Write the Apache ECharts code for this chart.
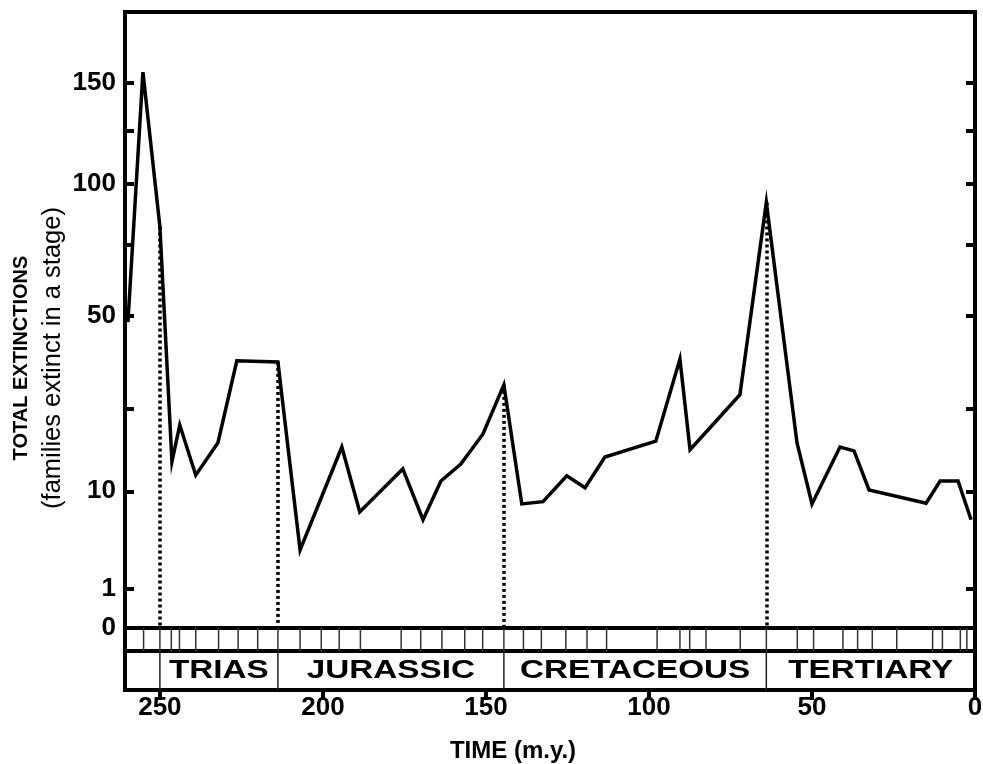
<!DOCTYPE html>
<html><head><meta charset="utf-8">
<script src="https://cdn.jsdelivr.net/npm/echarts@6/dist/echarts.min.js"></script>
<style>html,body{margin:0;padding:0;background:#fff}#c{width:983px;height:764px}</style>
</head><body><div id="c"></div>
<script>
// Time of each stage end (m.y. ago) and total family extinctions in that stage
const TIME = [259.8, 255.2, 250, 246.3, 243.9, 239, 232.2, 226.4, 213.8, 207, 194.2, 188.7, 175.5, 169.3, 163.8, 157.7, 150.9, 144.5, 139, 132.5, 125.2, 119.6, 113.5, 97.9, 90.5, 87.4, 81.9, 72.1, 64, 54.6, 50, 41.4, 37.1, 32.5, 15, 10.7, 5.2, 1.2];
const EXTINCT = [48, 156, 82, 14.6, 21.5, 12.4, 18, 36.8, 36.5, 3.45, 17.2, 7.3, 13.4, 6.4, 11.5, 14.2, 19.7, 30.6, 8.3, 8.6, 12.3, 10.5, 15.4, 18.3, 37.3, 16.7, 20.5, 28.2, 92, 18, 8.3, 17.2, 16.5, 10.2, 8.4, 11.5, 11.5, 6.4];
// Stage boundaries drawn in the thin strip under the plot
const STAGE_BOUNDS = [255, 250, 246.5, 244, 239, 232, 226, 220, 213.8, 207, 200.5, 195, 188.5, 176, 170, 163.5, 156.5, 151, 144.5, 138.5, 133, 125.5, 119, 113, 97.5, 90.5, 87.5, 82.5, 72, 64, 54.5, 49.5, 40.5, 36, 31.5, 24, 13, 10, 4.5, 2.5];
// Periods
const PERIODS = ['TRIAS', 'JURASSIC', 'CRETACEOUS', 'TERTIARY'];
const PERIOD_BOUNDS = [250, 213.8, 144.5, 64, 0];
// Dotted drop lines at period boundaries
const DROP_TIMES = [250, 213.8, 144.5, 64];
// Axis ticks
const Y_LABELS = [0, 1, 10, 50, 100, 150];
const Y_TICKS = [1, 10, 25, 50, 75, 100, 125, 150];
const X_LABELS = [250, 200, 150, 100, 50, 0];

const X_MAX = 260.7;
const Y_MIN = 0.12;   // sqrt scale units
const Y_MAX = 13.83;
const FONT = "'Liberation Sans', Arial, sans-serif";

const sq = v => Math.sqrt(v);
const lineData = TIME.map((t, i) => [t, sq(EXTINCT[i])]);
const dropData = DROP_TIMES.map(t => {
  const i = TIME.indexOf(t);
  return [{ coord: [t, sq(EXTINCT[i])] }, { coord: [t, Y_MIN] }];
});

const chart = echarts.init(document.getElementById('c'), null, { renderer: 'canvas' });
const gridBase = { left: 125, right: 8, show: true, borderColor: '#000', borderWidth: 4, backgroundColor: 'transparent', containLabel: false, outerBoundsMode: 'none' };
const noLine = { show: false, onZero: false };
const yTick = { show: true, inside: true, length: 9, lineStyle: { color: '#000', width: 4 }, customValues: Y_TICKS.map(sq) };

chart.setOption({
  animation: false,
  backgroundColor: '#fff',
  grid: [
    Object.assign({ top: 12, height: 616 }, gridBase),
    Object.assign({ top: 628, height: 23 }, gridBase),
    Object.assign({ top: 651, height: 39 }, gridBase)
  ],
  xAxis: [
    { gridIndex: 0, type: 'value', min: 0, max: X_MAX, inverse: true, show: false, axisLine: noLine },
    { gridIndex: 1, type: 'value', min: 0, max: X_MAX, inverse: true, show: false, axisLine: noLine },
    {
      gridIndex: 2, type: 'value', min: 0, max: X_MAX, inverse: true, position: 'bottom',
      axisLine: noLine,
      splitLine: { show: false },
      axisTick: { show: true, inside: false, length: 10, lineStyle: { color: '#000', width: 4 }, customValues: X_LABELS },
      axisLabel: { customValues: X_LABELS, color: '#000', fontSize: 26, fontWeight: 'bold', fontFamily: FONT, margin: 5 }
    }
  ],
  yAxis: [
    {
      gridIndex: 0, type: 'value', min: Y_MIN, max: Y_MAX, position: 'left',
      axisLine: noLine, splitLine: { show: false },
      axisTick: yTick,
      axisLabel: {
        customValues: Y_LABELS.map(v => v === 0 ? Y_MIN : sq(v)),
        formatter: v => String(Math.round(v * v)),
        color: '#000', fontSize: 26, fontWeight: 'bold', fontFamily: FONT, margin: 9
      }
    },
    {
      gridIndex: 0, type: 'value', min: Y_MIN, max: Y_MAX, position: 'right',
      axisLine: noLine, splitLine: { show: false },
      axisTick: yTick,
      axisLabel: { show: false }
    },
    { gridIndex: 1, type: 'value', min: 0, max: 1, show: false, axisLine: noLine },
    { gridIndex: 2, type: 'value', min: 0, max: 1, show: false, axisLine: noLine }
  ],
  graphic: [
    {
      type: 'text', x: 37, y: 358, rotation: Math.PI / 2,
      style: {
        text: '{a|TOTAL EXTINCTIONS}\n{b|(families extinct in a stage)}',
        align: 'center', verticalAlign: 'middle', fill: '#000',
        rich: {
          a: { fontSize: 20, fontWeight: 'bold', fontFamily: FONT, lineHeight: 31, fill: '#000' },
          b: { fontSize: 25.5, fontFamily: FONT, lineHeight: 31, fill: '#000' }
        }
      }
    },
    {
      type: 'text', x: 513, y: 751,
      style: { text: 'TIME (m.y.)', fontSize: 24, fontWeight: 'bold', fontFamily: FONT, fill: '#000', align: 'center', verticalAlign: 'middle' }
    }
  ],
  series: [
    {
      type: 'line', xAxisIndex: 0, yAxisIndex: 0, data: lineData,
      symbol: 'none', silent: true,
      lineStyle: { color: '#000', width: 3.5, join: 'miter' },
      markLine: {
        silent: true, symbol: 'none', label: { show: false },
        lineStyle: { color: '#000', width: 3.5, type: [3, 3] },
        emphasis: { disabled: true },
        data: dropData
      }
    },
    {
      type: 'custom', xAxisIndex: 1, yAxisIndex: 2, silent: true,
      data: STAGE_BOUNDS.map(t => [t]),
      renderItem: (params, api) => {
        const p0 = api.coord([api.value(0), 0]);
        const p1 = api.coord([api.value(0), 1]);
        return { type: 'line', shape: { x1: p0[0], y1: p0[1], x2: p1[0], y2: p1[1] }, style: { stroke: '#333', lineWidth: 1.5 } };
      }
    },
    {
      type: 'custom', xAxisIndex: 2, yAxisIndex: 3, silent: true,
      data: PERIODS.map((n, i) => [PERIOD_BOUNDS[i], PERIOD_BOUNDS[i + 1]]),
      renderItem: (params, api) => {
        const a0 = api.coord([api.value(0), 0]);
        const a1 = api.coord([api.value(0), 1]);
        const b = api.coord([api.value(1), 0.5]);
        const cx = (a0[0] + b[0]) / 2;
        return {
          type: 'group',
          children: [
            { type: 'line', shape: { x1: a0[0], y1: a0[1], x2: a1[0], y2: a1[1] }, style: { stroke: '#222', lineWidth: 1.5 } },
            {
              type: 'text', x: cx, y: b[1] + 1, scaleX: 1.33,
              style: { text: PERIODS[params.dataIndex], fontSize: 25, fontWeight: 'bold', fontFamily: FONT, fill: '#000', align: 'center', verticalAlign: 'middle' }
            }
          ]
        };
      }
    }
  ]
});
</script></body></html>
